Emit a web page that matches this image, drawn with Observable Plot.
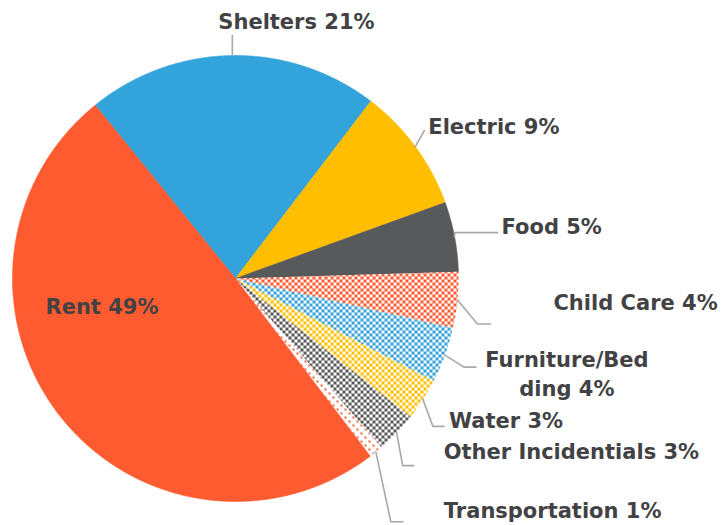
<!DOCTYPE html>
<html>
<head>
<meta charset="utf-8">
<script src="https://cdn.jsdelivr.net/npm/d3@7"></script>
<script src="https://cdn.jsdelivr.net/npm/@observablehq/plot@0.6"></script>
<style>
  html, body { margin: 0; padding: 0; background: #fff; }
</style>
</head>
<body>
<div id="chart"></div>
<script>
// ---- data ----
const categories = ["Shelters", "Electric", "Food", "Child Care", "Furniture/Bedding", "Water", "Other Incidentials", "Transportation", "Rent"];
const values = [21, 9, 5, 4, 4, 3, 3, 1, 49];
const labels = ["Shelters 21%", "Electric 9%", "Food 5%", "Child Care 4%", "Furniture/Bed\nding 4%", "Water 3%", "Other Incidentials 3%", "Transportation 1%", "Rent 49%"];

// ---- styles ----
const colors = ["#33a3db", "#ffbe00", "#58595b", "#ff5b31", "#33a3db", "#ffbe00", "#58595b", "#ff5b31", "#ff5b31"];
const patterns = [null, null, null, "check", "check", "check", "check", "dots", null];

// ---- label layout (pixel offsets): elbow from slice edge, horizontal run, text offset from line end ----
const labelLayout = [
  {elbow: [0, -20], run: 0, text: [-14, -16], anchor: "start"},
  {elbow: [9, -16], run: 0, text: [4, -6], anchor: "start"},
  {elbow: [0, -4], run: 43, text: [4, -8], anchor: "start"},
  {elbow: [20, 24], run: 13, text: [63, -23], anchor: "start"},
  {elbow: [19, 12], run: 12, text: [91, 5.5], anchor: "middle"},
  {elbow: [10, 27], run: 11, text: [5, -8], anchor: "start"},
  {elbow: [6, 33], run: 11, text: [30, -16], anchor: "start"},
  {elbow: [15, 70], run: 12, text: [41, -13], anchor: "start"},
  {inside: [-190, 26], anchor: "start"}
];

const W = 726, H = 525;
const R = 223;
const cx = 235, cy = 278;
const startDeg = -39;

const a0 = startDeg * Math.PI / 180;
const arcs = d3.pie().sort(null).value(d => d).startAngle(a0).endAngle(a0 + 2 * Math.PI)(values);

const fills = arcs.map((a, i) => patterns[i] ? `url(#pat-${i})` : colors[i]);

const slicePts = arcs.map((a, i) => {
  const pts = [{x: 0, y: 0}];
  const n = Math.max(4, Math.ceil((a.endAngle - a.startAngle) / 0.004));
  for (let k = 0; k <= n; k++) {
    const ang = a.startAngle + (a.endAngle - a.startAngle) * k / n;
    pts.push({x: R * Math.sin(ang), y: -R * Math.cos(ang)});
  }
  pts.push({x: 0, y: 0});
  return pts;
});

const leaderPts = [];
const textStart = [];
const textMiddle = [];
arcs.forEach((a, i) => {
  const L = labelLayout[i];
  const mid = (a.startAngle + a.endAngle) / 2;
  if (L.inside) {
    const t = {x: L.inside[0], y: L.inside[1], text: labels[i]};
    (L.anchor === "middle" ? textMiddle : textStart).push(t);
    return;
  }
  const s = {x: R * Math.sin(mid), y: -R * Math.cos(mid)};
  const e = {x: s.x + L.elbow[0], y: s.y + L.elbow[1]};
  const f = {x: e.x + L.run, y: e.y};
  leaderPts.push({...s, i}, {...e, i}, {...f, i});
  const t = {x: f.x + L.text[0], y: f.y + L.text[1], text: labels[i]};
  (L.anchor === "middle" ? textMiddle : textStart).push(t);
});

const textOpts = {
  x: "x", y: "y", text: "text",
  fontSize: 21, fontWeight: 700, fontFamily: "'DejaVu Sans', sans-serif",
  fill: "#424244", lineHeight: 1.38
};

const plot = Plot.plot({
  width: W, height: H,
  margin: 0,
  x: {domain: [-cx, W - cx], range: [0, W], axis: null},
  y: {domain: [-cy, H - cy], range: [0, H], axis: null},
  marks: [
    ...slicePts.map((pts, i) => Plot.line(pts, {
      x: "x", y: "y", curve: "linear",
      fill: fills[i],
      stroke: patterns[i] ? "none" : colors[i],
      strokeWidth: 0.6
    })),
    Plot.line(leaderPts, {x: "x", y: "y", z: "i", stroke: "#a8a8a8", strokeWidth: 1.6, curve: "linear"}),
    Plot.text(textStart, {...textOpts, textAnchor: "start"}),
    Plot.text(textMiddle, {...textOpts, textAnchor: "middle"})
  ]
});

// pattern definitions
let defs = "";
arcs.forEach((a, i) => {
  const c = colors[i];
  if (patterns[i] === "check") {
    defs += `<pattern id="pat-${i}" patternUnits="userSpaceOnUse" width="6" height="6" shape-rendering="crispEdges">
      <rect width="6" height="6" fill="#fff"/>
      <rect x="0" y="0" width="3" height="3" fill="${c}"/>
      <rect x="3" y="3" width="3" height="3" fill="${c}"/></pattern>`;
  } else if (patterns[i] === "dots") {
    defs += `<pattern id="pat-${i}" patternUnits="userSpaceOnUse" width="8" height="8" shape-rendering="crispEdges">
      <rect width="8" height="8" fill="#fff"/>
      <rect x="0" y="0" width="2" height="2" fill="${c}"/>
      <rect x="4" y="4" width="2" height="2" fill="${c}"/></pattern>`;
  }
});
d3.select(plot).insert("defs", ":first-child").html(defs);

document.getElementById("chart").appendChild(plot);
</script>
</body>
</html>
